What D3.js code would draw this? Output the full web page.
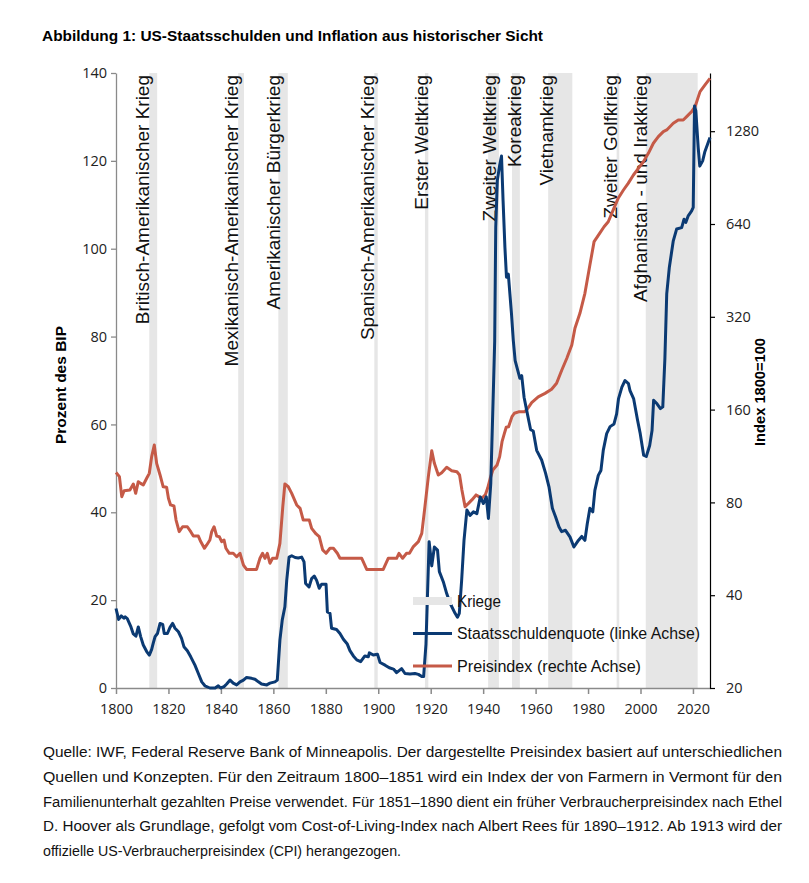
<!DOCTYPE html>
<html>
<head>
<meta charset="utf-8">
<script src="https://cdn.jsdelivr.net/npm/d3@7"></script>
<style>
  body { margin: 0; background: #fff; }
  svg { display: block; }
  .axis text { font-family: "Open Sans", "DejaVu Sans", sans-serif; font-size: 14.5px; fill: #222; }
</style>
</head>
<body>
<svg id="chart" width="809" height="883"></svg>
<script>

// Staatsschuldenquote, % des BIP (linke Achse), [Jahr, Wert]
const debt = [
  [1800,18.1],[1801,15.6],[1802,16.4],[1803,15.9],[1803.5,16.2],[1804.3,15.8],[1805.7,13.9],[1806.6,12.3],
  [1807.6,11.8],[1808.5,13.9],[1809.4,11.7],[1810.4,9.8],[1811.7,8.3],[1812.7,7.5],[1813.6,8.8],[1814.2,10.2],
  [1814.9,11.7],[1815.8,12.4],[1816.8,14.7],[1817.8,14.5],[1818.4,12.4],[1819.6,12.4],[1820.6,13.8],[1821.6,14.7],
  [1822.5,13.6],[1823.8,12.8],[1825,11.3],[1825.9,9.4],[1827.2,8.5],[1828.5,7.1],[1830.1,5.2],[1831.4,3.3],
  [1832.7,1.4],[1833.9,0.5],[1835.8,0],[1837.8,0],[1839,0.5],[1839.9,0],[1841.2,0.3],[1842.2,0.9],[1843.5,1.8],
  [1844.7,1.1],[1846,0.7],[1847.3,1.4],[1848.6,1.8],[1849.8,2.4],[1851.7,2.2],[1853,2.0],[1854.3,1.4],[1855.5,0.9],
  [1857.5,0.7],[1858.7,1.1],[1860.6,1.4],[1861.5,1.8],[1862.5,10.9],[1863.4,15.5],[1864.4,18.5],[1865.1,24.5],
  [1866,29.8],[1867,30.1],[1868.3,29.7],[1869.5,29.6],[1870.8,29.8],[1871.7,28.7],[1872.3,23.8],[1873.6,23.0],
  [1874.6,24.9],[1875.6,25.5],[1876.5,24.5],[1877.5,22.7],[1878.4,23.6],[1880.1,23.6],[1880.6,17.3],[1881.6,17.0],
  [1882.2,13.6],[1884.1,13.3],[1885.4,12.4],[1886.7,11.1],[1888.2,10.0],[1889.2,8.5],[1890.5,7.3],[1891.8,6.4],
  [1893.3,6.0],[1894.9,7.3],[1896.2,7.1],[1896.6,8.0],[1898.1,7.5],[1899.7,7.7],[1900.7,5.8],[1902.6,5.2],
  [1904.2,4.6],[1905.8,4.3],[1907,3.5],[1908.9,4.4],[1910.2,3.3],[1912.1,3.2],[1914,3.3],[1915.3,3.1],
  [1916.6,2.6],[1917.3,2.6],[1918.2,10],[1919.4,33.3],[1920.4,27.8],[1921.4,32.1],[1922.6,31.4],[1923.3,26.5],
  [1924.8,24.2],[1926.1,21.5],[1927.4,19.3],[1929.3,17.0],[1930.2,16.1],[1930.9,17.0],[1931.8,24.5],[1932.7,33.6],
  [1933.8,40.5],[1935,39.3],[1936.3,40.1],[1937.6,39.7],[1938.9,43.5],[1940.1,42.0],[1941.2,43.5],[1942,38.6],
  [1942.9,46.5],[1944,70],[1944.4,79],[1944.8,104.8],[1945.4,115.5],[1946.3,119],[1947,121.1],[1947.6,110.9],
  [1948.3,100.3],[1948.9,93.5],[1949.6,94.2],[1950.8,85.2],[1951.5,79.1],[1952.2,74.5],[1954,70.5],[1954.7,71.1],
  [1955.6,66.2],[1956.6,63.2],[1958.1,58.8],[1959.1,58.5],[1960.4,54.1],[1962.3,51.9],[1963.8,48.9],[1965.1,45.8],
  [1966.4,40.9],[1967.6,39.0],[1968.9,36.7],[1969.9,35.6],[1971.4,35.9],[1973.1,34.4],[1974.6,32.1],[1976.3,33.6],
  [1977.6,34.5],[1978.8,33.6],[1979.7,37.4],[1980.7,40.9],[1981.8,40.1],[1982.6,45.0],[1983.9,48.4],[1984.9,49.5],
  [1985.8,54.1],[1987.1,57.9],[1988.4,59.5],[1989.9,60.1],[1990.9,62.4],[1991.6,65.8],[1992.9,68.5],[1994.1,70.0],
  [1995.4,69.3],[1996,67.7],[1997.4,65.8],[1998.9,60.9],[1999.9,57.9],[2001.2,53.0],[2002.2,52.7],[2003.5,55.2],
  [2004.4,58.6],[2005,65.5],[2006.3,64.7],[2007.6,63.6],[2008.5,64],[2009.3,75],[2010,89.7],[2011,95.8],
  [2012.5,101.8],[2013.8,104.5],[2015.7,104.8],[2016.6,106.7],[2017.3,106.0],[2018.2,107.5],[2019.5,108.6],
  [2020.1,109.4],[2020.6,132.5],[2021.1,131.4],[2022,123],[2022.6,118.8],[2023.7,120],[2024.5,122],[2026.5,125.3]
]

// Preisindex 1800=100 (rechte Achse, log2), [Jahr, Wert]
const price = [
  [1800,100],[1801.3,97],[1802.2,83.5],[1803.1,87.3],[1805.3,87.8],[1806.6,91.8],[1807.5,85.6],[1808.5,93.4],
  [1809.4,92.2],[1810.4,91.1],[1811.7,95.8],[1812.7,99.4],[1813.6,112.6],[1814.6,122.8],[1815.5,107.1],[1816.8,98.2],
  [1818,89.9],[1819.3,89.6],[1820,82.5],[1820.8,78.5],[1822.1,77.9],[1822.9,70.1],[1824.1,64.3],[1825.4,66.7],
  [1827.2,66.7],[1828.5,64.3],[1829.5,62.2],[1831.4,62.2],[1832.3,59.7],[1833.7,56.8],[1834.6,58.2],[1835.8,60.4],
  [1836.5,64.3],[1837.4,66.7],[1838.4,62.2],[1839.4,61.9],[1840.3,59.7],[1841.2,60.4],[1841.9,56.8],[1843.2,54.7],
  [1844.7,54.7],[1846,53.3],[1847.3,54.7],[1848.6,50.1],[1849.8,48.5],[1853.6,48.5],[1854.9,52.7],[1855.9,54.7],
  [1856.8,52.7],[1857.7,54.7],[1858.7,50.8],[1859.7,52.7],[1861.3,52.7],[1862.5,58.9],[1863.6,77.5],[1864.4,91.8],
  [1865.7,89.9],[1867,85.6],[1868.9,78.5],[1870.2,76.5],[1871.4,70.1],[1873.7,70.1],[1874.6,65.9],[1876.3,63.2],
  [1877.5,61.9],[1878.8,56.1],[1880.1,54.7],[1881.6,56.8],[1882.9,56.8],[1884.4,54.7],[1885.4,52.7],[1893.7,52.7],
  [1895.6,48.5],[1901.9,48.5],[1903.8,52.7],[1907,52.7],[1907.9,54.7],[1909.3,52.7],[1910.8,54.7],[1911.9,54.7],
  [1913.4,57.5],[1915.3,59.7],[1916.6,63.5],[1917.8,77.5],[1919.1,97],[1920.4,117.7],[1921.4,107.1],[1922.9,98.2],
  [1924.2,99.9],[1926.1,104],[1928,101.4],[1930,100.6],[1931,98.2],[1931.9,87.8],[1933.1,77.5],[1934.4,79.4],
  [1935.7,81.5],[1937.3,84.6],[1938.2,83.7],[1939.5,82.5],[1940.8,84.6],[1941.7,88.9],[1942.7,95.8],[1943.7,101.9],
  [1945.3,105.8],[1946.3,112.6],[1947.2,125.9],[1948.1,134],[1948.8,140.2],[1949.7,140.7],[1951,151.8],[1951.9,155.7],
  [1953.5,157.4],[1955.7,157.4],[1956.6,159.5],[1958.5,168.5],[1961,176],[1963.6,180.6],[1966.1,186.2],[1968,194.7],
  [1970,215.1],[1971.9,234.8],[1973.8,259.2],[1975,293.7],[1976.9,328.5],[1978.8,381.4],[1980.7,471],[1982.3,561],
  [1984.6,600],[1986.1,627],[1987.7,651],[1989.6,711],[1991.5,776],[1993.5,825],[1995.3,867],[1997.3,923],
  [1999.2,970],[2001.1,1019],[2003,1085],[2004.9,1170],[2006.8,1229],[2008.7,1276],[2010,1292],[2012.5,1358],
  [2014.4,1392],[2016.3,1392],[2017.6,1427],[2019.5,1481],[2020.8,1537],[2022.7,1720],[2024.6,1808],[2026.5,1900]
]

// Kriege: Beginn, Ende (Jahr), Beschriftung, Lage der Beschriftung (Jahr)
const wars = [
  [1812.7, 1815.7, "Britisch-Amerikanischer Krieg", 1812.6],
  [1846.6, 1848.8, "Mexikanisch-Amerikanischer Krieg", 1846.5],
  [1861.9, 1865.5, "Amerikanischer Bürgerkrieg", 1862.5],
  [1898.5, 1899.8, "Spanisch-Amerikanischer Krieg", 1898.4],
  [1917.8, 1919.1, "Erster Weltkrieg", 1919.0],
  [1941.9, 1946.0, "Zweiter Weltkrieg", 1944.9],
  [1951.0, 1954.0, "Koreakrieg", 1954.6],
  [1964.8, 1974.0, "Vietnamkrieg", 1966.6],
  [1990.9, 1991.9, "Zweiter Golfkrieg", 1991.0],
  [2002.0, 2021.8, "Afghanistan - und Irakkrieg", 2002.3]
]

const xTicks = [1800, 1820, 1840, 1860, 1880, 1900, 1920, 1940, 1960, 1980, 2000, 2020]
const leftTicks = [0, 20, 40, 60, 80, 100, 120, 140]
const rightTicks = [20, 40, 80, 160, 320, 640, 1280]

const legendItems = [
  ["band", "Kriege"],
  ["debt", "Staatsschuldenquote (linke Achse)"],
  ["price", "Preisindex (rechte Achse)"]
]

const title = "Abbildung 1: US-Staatsschulden und Inflation aus historischer Sicht"

const footnote = [
  "Quelle: IWF, Federal Reserve Bank of Minneapolis. Der dargestellte Preisindex basiert auf unterschiedlichen",
  "Quellen und Konzepten. Für den Zeitraum 1800–1851 wird ein Index der von Farmern in Vermont für den",
  "Familienunterhalt gezahlten Preise verwendet. Für 1851–1890 dient ein früher Verbraucherpreisindex nach Ethel",
  "D. Hoover als Grundlage, gefolgt vom Cost-of-Living-Index nach Albert Rees für 1890–1912. Ab 1913 wird der",
  "offizielle US-Verbraucherpreisindex (CPI) herangezogen."
]

const BLUE = "#0b3a73"
const RED = "#c55a47"
const BAND = "#e6e6e6"
const TEXTFONT = "'Liberation Sans', Arial, sans-serif"

const svg = d3.select("#chart")

const plot = {left: 116, right: 710, top: 73, bottom: 688}

const x = d3.scaleLinear().domain([1800, 2026.5]).range([plot.left, plot.right])
const yLeft = d3.scaleLinear().domain([0, 140]).range([plot.bottom, plot.top])
const yRight = d3.scaleLog().base(2)
    .domain([20, 20 * Math.pow(2, (plot.bottom - plot.top) / 92.8)])
    .range([plot.bottom, plot.top])

// title
svg.append("text")
    .attr("x", 42).attr("y", 41)
    .attr("font-family", TEXTFONT)
    .attr("font-weight", "bold")
    .attr("font-size", 15)
    .attr("textLength", 501)
    .attr("lengthAdjust", "spacingAndGlyphs")
    .text(title)

// war bands
svg.append("g").selectAll("rect").data(wars).enter().append("rect")
    .attr("x", d => x(d[0]))
    .attr("width", d => x(d[1]) - x(d[0]))
    .attr("y", plot.top)
    .attr("height", plot.bottom - plot.top)
    .attr("fill", BAND)

// war labels
svg.append("g").selectAll("text").data(wars).enter().append("text")
    .attr("transform", d => `translate(${x(d[3])},75) rotate(-90)`)
    .attr("text-anchor", "end")
    .attr("font-family", TEXTFONT)
    .attr("font-size", 19)
    .attr("fill", "#111")
    .text(d => d[2])

// axes
const bottomAxis = svg.append("g")
    .attr("class", "axis")
    .attr("transform", `translate(0,${plot.bottom})`)
    .call(d3.axisBottom(x).tickValues(xTicks).tickFormat(d3.format("d")).tickSize(6).tickPadding(10).tickSizeOuter(0))

const leftAxis = svg.append("g")
    .attr("class", "axis")
    .attr("transform", `translate(${plot.left},0)`)
    .call(d3.axisLeft(yLeft).tickValues(leftTicks).tickSize(5).tickPadding(4).tickSizeOuter(0))

const rightAxis = svg.append("g")
    .attr("class", "axis")
    .attr("transform", `translate(${plot.right},0)`)
    .call(d3.axisRight(yRight).tickValues(rightTicks).tickFormat(d3.format("d")).tickSize(5).tickPadding(11).tickSizeOuter(0))

bottomAxis.selectAll("path, line").attr("stroke", "#8a8a8a").attr("stroke-width", 1.5)
leftAxis.selectAll("path, line").attr("stroke", "#8a8a8a").attr("stroke-width", 1.3)
rightAxis.selectAll("path, line").attr("stroke", "#000").attr("stroke-width", 1.2)

// axis titles
svg.append("text")
    .attr("transform", "translate(66,385) rotate(-90)")
    .attr("text-anchor", "middle")
    .attr("font-family", TEXTFONT)
    .attr("font-weight", "bold")
    .attr("font-size", 14)
    .attr("textLength", 118)
    .attr("lengthAdjust", "spacingAndGlyphs")
    .text("Prozent  des BIP")

svg.append("text")
    .attr("transform", "translate(765,392) rotate(-90)")
    .attr("text-anchor", "middle")
    .attr("font-family", TEXTFONT)
    .attr("font-weight", "bold")
    .attr("font-size", 14)
    .attr("textLength", 108)
    .attr("lengthAdjust", "spacingAndGlyphs")
    .text("Index 1800=100")

// lines
const debtLine = d3.line().x(d => x(d[0])).y(d => yLeft(d[1]))
const priceLine = d3.line().x(d => x(d[0])).y(d => yRight(d[1]))

svg.append("path")
    .datum(price)
    .attr("d", priceLine)
    .attr("fill", "none")
    .attr("stroke", RED)
    .attr("stroke-width", 3)
    .attr("stroke-linejoin", "round")

svg.append("path")
    .datum(debt)
    .attr("d", debtLine)
    .attr("fill", "none")
    .attr("stroke", BLUE)
    .attr("stroke-width", 3)
    .attr("stroke-linejoin", "round")

// legend
const legendWidths = {"band": 44, "debt": 243, "price": 184}
const legend = svg.append("g").attr("transform", "translate(413,601)")
const rows = legend.selectAll("g").data(legendItems).enter().append("g")
    .attr("transform", (d, i) => `translate(0,${i * 32.5})`)

rows.each(function(d) {
    const g = d3.select(this)
    if (d[0] === "band") {
        g.append("rect").attr("x", 0).attr("y", -4).attr("width", 39).attr("height", 8).attr("fill", BAND)
    } else {
        g.append("line").attr("x1", 0).attr("x2", 39).attr("y1", 0).attr("y2", 0)
            .attr("stroke", d[0] === "debt" ? BLUE : RED).attr("stroke-width", 3)
    }
    g.append("text")
        .attr("x", 44).attr("y", 5.5)
        .attr("font-family", TEXTFONT)
        .attr("font-size", 16)
        .attr("fill", "#111")
        .attr("textLength", legendWidths[d[0]])
        .attr("lengthAdjust", "spacingAndGlyphs")
        .text(d[1])
})

// footnote
svg.append("g").selectAll("text").data(footnote).enter().append("text")
    .attr("x", 43)
    .attr("y", (d, i) => 757 + i * 24.8)
    .attr("font-family", TEXTFONT)
    .attr("font-size", 14)
    .attr("fill", "#111")
    .attr("textLength", (d, i) => i < footnote.length - 1 ? 739 : 358)
    .attr("lengthAdjust", "spacingAndGlyphs")
    .text(d => d)

</script>
</body>
</html>
